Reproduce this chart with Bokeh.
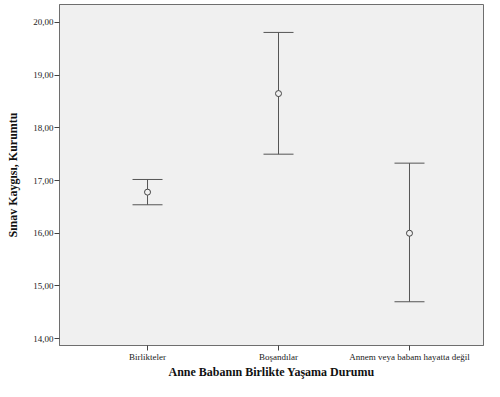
from bokeh.plotting import figure
from bokeh.models import Range1d, FixedTicker, Whisker, ColumnDataSource, TeeHead
from bokeh.embed import file_html
from bokeh.resources import INLINE

categories = ["Birlikteler", "Boşandılar", "Annem veya babam hayatta değil"]
positions = [1, 2, 3]
means = [16.78, 18.65, 16.00]
lower = [16.54, 17.50, 14.70]
upper = [17.02, 19.81, 17.33]
y_ticks = [14, 15, 16, 17, 18, 19, 20]
y_tick_labels = ["14,00", "15,00", "16,00", "17,00", "18,00", "19,00", "20,00"]

FONT = "Liberation Serif"
LINE = "#555555"

p = figure(width=484, height=381, output_backend="svg", toolbar_location=None,
           x_range=Range1d(0.328, 3.565), y_range=Range1d(13.87, 20.34),
           min_border_left=59, min_border_right=1, min_border_top=4, min_border_bottom=30)

p.border_fill_color = "white"
p.background_fill_color = "#f0f0f0"
p.outline_line_color = "#6e6e6e"
p.outline_line_width = 1
p.xgrid.visible = False
p.ygrid.visible = False

src = ColumnDataSource(dict(x=positions, m=means, lo=lower, up=upper))

w = Whisker(base="x", lower="lo", upper="up", source=src, dimension="height",
            line_color=LINE, line_width=1,
            upper_head=TeeHead(size=30, line_color=LINE, line_width=1),
            lower_head=TeeHead(size=30, line_color=LINE, line_width=1))
p.add_layout(w)

p.scatter("x", "m", source=src, marker="circle", size=6, fill_color="#f0f0f0",
          line_color="#444444", line_width=1)

# axes
p.xaxis.ticker = FixedTicker(ticks=positions)
p.xaxis.major_label_overrides = {pos: c for pos, c in zip(positions, categories)}
p.yaxis.ticker = FixedTicker(ticks=y_ticks)
p.yaxis.major_label_overrides = {t: l for t, l in zip(y_ticks, y_tick_labels)}

for ax in (p.xaxis[0], p.yaxis[0]):
    ax.axis_line_color = "#6e6e6e"
    ax.major_tick_line_color = "#444444"
    ax.major_tick_out = 5
    ax.major_tick_in = 0
    ax.minor_tick_line_color = None
    ax.major_label_text_font = FONT
    ax.major_label_text_font_size = "9px"
    ax.major_label_text_color = "#222222"
    ax.axis_label_text_font = FONT
    ax.axis_label_text_font_size = "12px"
    ax.axis_label_text_font_style = "bold"
    ax.axis_label_text_color = "#111111"
    ax.major_label_standoff = 1

p.xaxis.axis_label = "Anne Babanın Birlikte Yaşama Durumu"
p.yaxis.axis_label = "Sınav Kaygısı, Kurumtu"
p.xaxis.axis_label_standoff = 0
p.yaxis.axis_label_standoff = 10

open("out.html", "w").write(file_html(p, INLINE))
